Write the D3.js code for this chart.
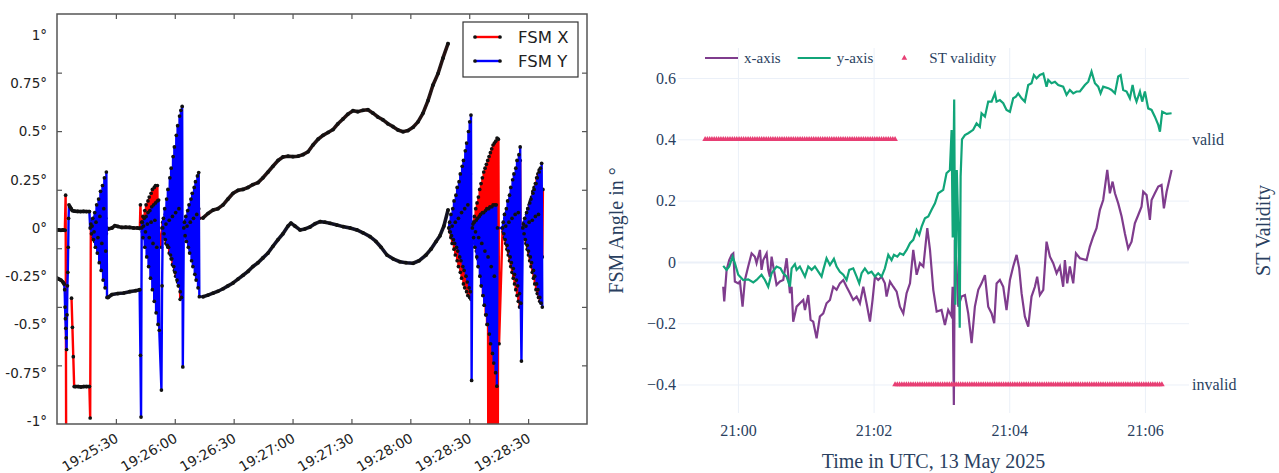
<!DOCTYPE html>
<html>
<head>
<meta charset="utf-8">
<script src="https://cdn.jsdelivr.net/npm/d3@7"></script>
<style>
  html, body { margin: 0; padding: 0; background: #fff; }
  svg { display: block; }
</style>
</head>
<body>
<svg id="chart" width="1279" height="473"></svg>
<script>
// ---------------- left panel: FSM angles, seconds after 19:25:00 ----------------
// segments: ['track', [[sec, deg], ...]] slow samples, ['burst', t0, dt, [deg...]] fast samples, ['gap']
const fsmXSegments = [
  ['track', [[0, -0.01], [1, -0.01], [2, -0.012], [3, -0.01], [4, -0.012]]],
  ['burst', 4.4, 0.3, [0.17, -1.3]],
  ['gap'],
  ['burst', 7.4, 0.45, [-0.364, -0.515, -0.667, -0.822]],
  ['track', [[9.4, -0.822], [10.8, -0.822], [12.2, -0.824], [13.6, -0.822], [15, -0.822], [16.5, -0.822]]],
  ['burst', 16.9, 0.33, [-0.985, 0.0, 0.02, -0.03, 0.04, -0.05, 0.05, -0.07, 0.06, -0.08, 0.07, -0.1, 0.08, -0.11,
    0.09, -0.12, 0.1, -0.13, 0.1, -0.14, 0.11, -0.15, 0.1, -0.1, 0.05, -0.03, 0.0]],
  ['track', [[26, -0.005], [28, 0.0], [29.5, 0.012], [31, 0.008], [33, 0.003], [35, 0.004], [37, 0.003], [39, 0.0], [41, 0.0], [42.2, -0.002]]],
  ['burst', 42.5, 0.32, [0.12, 0.0, 0.03, -0.02, 0.06, -0.04, 0.02, 0.09, -0.06, 0.12, -0.09, 0.04, 0.14, -0.12, 0.16,
    -0.15, 0.06, 0.18, -0.18, 0.2, -0.21, 0.08, 0.21, -0.25, 0.22, -0.28, 0.1, 0.22, -0.3, 0.0]],
  ['burst', 53.2, 0.33, [-0.1, 0.0, 0.03, -0.03, 0.05, -0.05, 0.07, -0.08, 0.02, 0.09, -0.1, 0.11, -0.13, 0.05, 0.12,
    -0.16, 0.13, -0.19, 0.06, 0.14, -0.22, 0.15, -0.25, 0.08, 0.15, -0.28, 0.16, -0.3, -0.13, -0.37, -0.2, -0.3, 0.0]],
  ['burst', 64.6, 0.33, [0.0, 0.02, -0.03, 0.04, -0.05, 0.06, -0.07, 0.08, -0.09, 0.1, -0.11, 0.12, -0.13, 0.13, -0.15,
    0.15, -0.17, 0.16, -0.19, 0.17, -0.2, 0.18, -0.22, 0.1, 0.05]],
  ['track', [[74.4, 0.052], [76.9, 0.075], [79.5, 0.093], [82.0, 0.10], [84.6, 0.12], [87.1, 0.15], [89.7, 0.18],
    [92.2, 0.195], [94.8, 0.2], [97.3, 0.21], [99.8, 0.225], [102.4, 0.235], [104.9, 0.26], [107.5, 0.29], [110.0, 0.32],
    [112.6, 0.35], [115.1, 0.368], [117.7, 0.372], [120.2, 0.37], [122.8, 0.372], [125.3, 0.38], [127.9, 0.395],
    [130.4, 0.43], [133.0, 0.46], [135.5, 0.48], [138.1, 0.495], [140.6, 0.51], [143.1, 0.54], [145.7, 0.565],
    [148.2, 0.59], [150.8, 0.608], [153.3, 0.603], [155.9, 0.61], [158.4, 0.613], [161.0, 0.595], [163.5, 0.575],
    [166.1, 0.56], [168.6, 0.54], [171.2, 0.525], [173.7, 0.508], [176.3, 0.499], [178.8, 0.505], [181.4, 0.522],
    [183.9, 0.55], [186.4, 0.594], [189.0, 0.66], [191.5, 0.74], [194.1, 0.8], [196.6, 0.88], [199.2, 0.955]]],
  ['gap'],
  ['burst', 199.7, 0.32, [0.0, -0.02, 0.02, -0.05, 0.04, -0.08, 0.0, 0.06, -0.11, 0.08, -0.14, 0.02, 0.1, -0.17, 0.12,
    -0.2, 0.03, 0.14, -0.23, 0.16, -0.26, 0.05, 0.18, -0.29, 0.2, -0.31, 0.06, 0.22, -0.33, 0.24, -0.35, 0.08, 0.26,
    -0.36, 0.28, -0.37, 0.0]],
  ['burst', 211.6, 0.34, [0.0, 0.03, -0.04, 0.06, -0.08, 0.1, -0.12, 0.13, -0.16, 0.16, -0.2, 0.2, -0.25, 0.23, -0.3,
    0.26, -0.35, 0.29, -0.4, 0.31, -0.45, 0.33, -0.5, 0.35, -1.4, 0.37, -1.4, 0.39, -1.4, 0.41, -1.4, 0.43, -1.4, 0.44,
    -1.4, 0.45, -1.4, 0.466, -1.4, 0.46, -0.6]],
  ['burst', 227.0, 0.32, [0.0, -0.02, 0.03, -0.05, 0.05, -0.08, 0.08, -0.11, 0.1, -0.14, 0.13, -0.17, 0.15, -0.2, 0.18,
    -0.23, 0.2, -0.26, 0.23, -0.29, 0.25, -0.32, 0.28, -0.35, 0.3, -0.38, 0.33, -0.41, 0.35, -0.4, 0.0]],
  ['burst', 237.3, 0.32, [0.0, -0.02, 0.03, -0.05, 0.05, -0.08, 0.07, -0.11, 0.1, -0.14, 0.12, -0.17, 0.14, -0.2, 0.16,
    -0.23, 0.19, -0.26, 0.21, -0.29, 0.23, -0.32, 0.26, -0.34, 0.28, -0.36, 0.3, -0.38, 0.22, -0.15, 0.2, -0.15, 0.2]]
];

const fsmYSegments = [
  ['track', [[0, -0.26], [1, -0.265], [2, -0.27], [3, -0.28], [3.6, -0.29]]],
  ['burst', 3.9, 0.2, [-0.32, -0.41, -0.47, -0.52, -0.57, -0.63, -0.45, -0.3, -0.23, -0.1, 0.05, 0.12]],
  ['track', [[6.6, 0.11], [7.2, 0.1], [7.8, 0.09], [9, 0.087], [10.5, 0.086], [12, 0.085], [13.5, 0.086], [15, 0.085], [16.5, 0.085]]],
  ['burst', 16.9, 0.33, [0.0, 0.02, -0.03, 0.01, 0.05, -0.06, -0.02, 0.08, -0.1, 0.03, 0.12, -0.13, -0.05, 0.15, -0.18,
    0.06, 0.19, -0.22, -0.08, 0.22, -0.27, 0.1, 0.26, -0.31, -0.12, 0.29, -0.36]],
  ['track', [[26, -0.36], [28, -0.345], [31, -0.34], [34, -0.337], [37, -0.33], [40, -0.325], [42.1, -0.32]]],
  ['burst', 42.5, 0.32, [-0.66, -0.98, 0.0, 0.03, -0.05, 0.01, 0.05, -0.1, -0.02, 0.06, -0.15, 0.02, 0.08, -0.2, -0.05,
    0.09, -0.26, 0.03, 0.11, -0.32, -0.08, 0.12, -0.38, 0.04, 0.13, -0.44, -0.1, 0.14, -0.5, 0.145, -0.53]],
  ['burst', 53.2, 0.33, [-0.84, -0.3, 0.0, 0.05, -0.03, 0.1, -0.06, 0.02, 0.15, -0.09, 0.2, -0.1, 0.04, 0.26, -0.14,
    0.31, -0.16, 0.06, 0.37, -0.2, 0.42, -0.23, 0.08, 0.48, -0.27, 0.53, -0.3, 0.1, 0.58, -0.33, 0.61, -0.36, 0.63, -0.72]],
  ['burst', 64.6, 0.33, [0.0, 0.03, -0.04, 0.06, -0.07, 0.01, 0.09, -0.1, 0.12, -0.13, 0.03, 0.15, -0.17, 0.18, -0.2,
    0.05, 0.21, -0.24, 0.24, -0.27, 0.07, 0.27, -0.31, 0.287, -0.356]],
  ['track', [[74.4, -0.356], [76.9, -0.348], [79.5, -0.338], [82.0, -0.328], [84.6, -0.315], [87.1, -0.3], [89.7, -0.285],
    [92.2, -0.265], [94.8, -0.245], [97.3, -0.225], [99.8, -0.2], [102.4, -0.18], [104.9, -0.155], [107.5, -0.13],
    [110.0, -0.095], [112.6, -0.06], [115.1, -0.03], [117.7, 0.01], [119.2, 0.025], [121.2, 0.01], [123.8, -0.01],
    [126.3, -0.005], [128.9, 0.005], [131.4, 0.022], [134.0, 0.033], [136.5, 0.03], [139.1, 0.024], [142.6, 0.015],
    [145.7, 0.007], [149.3, 0.0], [152.8, -0.01], [155.9, -0.025], [159.5, -0.045], [162.5, -0.07], [165.1, -0.1],
    [168.1, -0.14], [171.2, -0.16], [174.7, -0.175], [177.8, -0.18], [181.4, -0.183], [184.4, -0.17], [188.0, -0.14],
    [190.5, -0.11], [193.1, -0.07], [195.1, -0.04], [197.1, 0.01], [199.2, 0.093]]],
  ['gap'],
  ['burst', 199.7, 0.32, [0.0, 0.03, -0.02, 0.07, -0.04, 0.01, 0.1, -0.06, 0.14, -0.08, 0.03, 0.17, -0.1, 0.21, -0.12,
    0.05, 0.24, -0.15, 0.28, -0.17, 0.08, 0.32, -0.2, 0.35, -0.22, 0.1, 0.4, -0.25, 0.44, -0.28, 0.12, 0.5, -0.31, 0.55,
    -0.33, 0.585, -0.79]],
  ['burst', 211.6, 0.32, [0.0, 0.02, -0.05, 0.03, -0.1, -0.02, 0.04, -0.15, 0.05, -0.2, -0.05, 0.06, -0.25, 0.07, -0.3,
    -0.08, 0.08, -0.35, 0.08, -0.4, -0.12, 0.09, -0.45, 0.1, -0.5, -0.15, 0.1, -0.55, 0.11, -0.6, -0.2, 0.11, -0.65, 0.12,
    -0.7, -0.25, 0.12, -0.75, 0.12, -0.82, 0.0]],
  ['burst', 227.0, 0.32, [0.0, 0.03, -0.03, 0.07, -0.06, 0.01, 0.1, -0.09, 0.14, -0.12, 0.03, 0.17, -0.15, 0.21, -0.18,
    0.05, 0.25, -0.21, 0.28, -0.24, 0.07, 0.31, -0.27, 0.35, -0.3, 0.08, 0.38, -0.34, 0.42, -0.39, -0.69]],
  ['burst', 237.3, 0.32, [0.0, 0.02, -0.03, 0.05, -0.06, 0.01, 0.08, -0.09, 0.1, -0.12, 0.03, 0.13, -0.15, 0.15, -0.18,
    0.04, 0.18, -0.22, 0.2, -0.25, 0.06, 0.23, -0.29, 0.26, -0.32, 0.07, 0.29, -0.36, 0.31, -0.39, 0.335, -0.41]]
];

const leftTickTimes = [30, 60, 90, 120, 150, 180, 210, 240];   // seconds after 19:25:00
const leftTickLabels = ['19:25:30', '19:26:00', '19:26:30', '19:27:00', '19:27:30', '19:28:00', '19:28:30', '19:28:30'];
const leftYLabelValues = [1, 0.75, 0.5, 0.25, 0, -0.25, -0.5, -0.75, -1];
const leftYLabels = ['1°', '0.75°', '0.5°', '0.25°', '0°', '-0.25°', '-0.5°', '-0.75°', '-1°'];
const leftYTickMarks = [-0.712, -0.409, -0.105, 0.198, 0.502, 0.805];
const leftLegend = ['FSM X', 'FSM Y'];

// ---------------- right panel: seconds after 21:00:00 UTC ----------------
const xAxisSeries = [
  [-13.0, -0.081], [-12.1, -0.129], [-10.0, -0.026], [-7.7, 0.006], [-5.6, 0.023], [-4.1, 0.028], [-2.7, -0.064],
  [0.3, -0.070], [1.8, -0.064], [4.1, -0.146], [6.2, -0.059], [9.1, -0.015], [12.1, 0.028], [15.0, 0.017],
  [16.5, -0.004], [19.5, 0.039], [20.9, -0.026], [22.4, 0.006], [25.4, 0.028], [26.8, -0.026], [28.3, -0.048],
  [29.8, 0.017], [31.3, -0.015], [34.2, -0.075], [37.2, -0.064], [40.1, -0.059], [43.1, 0.012], [46.0, -0.102],
  [47.5, -0.081], [48.9, -0.195], [51.9, -0.146], [54.8, -0.135], [57.8, -0.124], [59.3, -0.157], [62.2, -0.108],
  [64.3, -0.189], [66.6, -0.195], [69.6, -0.249], [72.5, -0.178], [75.5, -0.168], [78.4, -0.135], [81.4, -0.124],
  [84.3, -0.081], [87.3, -0.091], [90.2, -0.070], [93.2, -0.059], [96.1, -0.081], [99.1, -0.102], [102.0, -0.124],
  [105.0, -0.113], [107.9, -0.135], [110.9, -0.081], [113.8, -0.135], [116.8, -0.195], [119.1, -0.124],
  [121.2, -0.048], [124.1, -0.059], [127.1, -0.048], [130.0, -0.070], [131.5, -0.113], [134.5, -0.064],
  [137.4, -0.081], [140.4, -0.097], [143.3, -0.146], [146.3, -0.168], [149.2, -0.102], [152.2, -0.070],
  [155.1, 0.039], [158.1, -0.042], [161.0, -0.004], [164.0, -0.015], [167.5, 0.110], [169.9, 0.039],
  [172.8, -0.091], [175.8, -0.162], [180.1, -0.157], [183.1, -0.206], [186.0, -0.157], [189.0, -0.178],
  [189.9, -0.081], [191.0, -0.467], [191.9, 0.072], [193.4, -0.015], [194.9, -0.146], [197.8, -0.113],
  [200.8, -0.108], [203.7, -0.168], [206.7, -0.265], [209.6, -0.146], [212.6, -0.091], [215.5, -0.070],
  [218.5, -0.043], [221.4, -0.146], [224.4, -0.168], [226.7, -0.200], [228.8, -0.070], [231.7, -0.059],
  [234.7, -0.081], [237.6, -0.157], [240.6, -0.059], [243.5, -0.015], [246.5, 0.023], [248.8, -0.021],
  [250.9, -0.102], [253.8, -0.178], [256.8, -0.211], [259.7, -0.113], [262.7, -0.081], [264.7, -0.048],
  [267.1, -0.108], [270.1, -0.091], [273.0, 0.066], [276.0, 0.017], [278.9, -0.004], [281.9, -0.037],
  [284.8, -0.015], [287.7, -0.081], [289.2, 0.006], [291.3, -0.070], [293.6, -0.015], [296.6, -0.070],
  [299.0, 0.028], [302.5, 0.012], [308.4, 0.006], [311.3, 0.050], [314.3, 0.083], [317.2, 0.110], [320.2, 0.170],
  [323.1, 0.202], [326.7, 0.300], [329.0, 0.224], [331.4, 0.262], [333.5, 0.224], [336.4, 0.191], [339.4, 0.148],
  [342.3, 0.093], [345.2, 0.044], [348.2, 0.066], [351.1, 0.126], [354.1, 0.153], [357.0, 0.180], [358.5, 0.229],
  [361.5, 0.218], [364.4, 0.137], [365.9, 0.202], [368.8, 0.224], [371.8, 0.246], [374.7, 0.251], [376.8, 0.175],
  [379.2, 0.229], [383.6, 0.300]
];

const yAxisSeries = [
  [-13.0, -0.013], [-10.0, -0.026], [-7.7, -0.015], [-4.7, 0.017], [-2.7, -0.004], [0.3, -0.042], [4.7, -0.059],
  [9.1, -0.057], [13.6, -0.067], [16.5, -0.059], [20.9, -0.042], [23.9, -0.059], [26.8, -0.081], [29.8, -0.037],
  [34.2, -0.015], [37.7, -0.021], [40.1, -0.037], [43.1, -0.048], [46.0, -0.081], [47.5, -0.021], [50.4, -0.007],
  [51.9, -0.026], [54.8, -0.015], [59.3, -0.048], [62.2, -0.015], [65.2, -0.026], [68.1, -0.015], [71.1, -0.032],
  [74.0, -0.048], [75.5, -0.026], [78.4, 0.012], [81.4, -0.010], [84.9, 0.010], [87.3, -0.015], [90.2, -0.032],
  [93.2, -0.042], [96.1, -0.059], [98.5, -0.026], [102.0, -0.021], [105.0, -0.048], [107.3, -0.070],
  [109.4, -0.037], [112.3, -0.021], [115.3, -0.037], [118.2, -0.032], [121.2, -0.048], [124.1, -0.037],
  [127.1, -0.048], [130.0, -0.021], [133.0, 0.023], [135.9, 0.006], [138.0, 0.023], [141.0, 0.017], [143.3, 0.028],
  [146.3, 0.023], [149.2, 0.039], [152.2, 0.061], [155.1, 0.072], [158.1, 0.104], [160.4, 0.088], [162.5, 0.115],
  [165.4, 0.142], [168.4, 0.148], [171.3, 0.170], [174.3, 0.191], [177.2, 0.224], [181.6, 0.235], [184.5, 0.289],
  [187.5, 0.300], [189.0, 0.43], [190.0, 0.08], [191.3, 0.53], [192.3, -0.14], [193.6, 0.30], [195.0, 0.10],
  [196.2, -0.215], [197.0, 0.28], [198.2, 0.40], [200.8, 0.414], [203.7, 0.420], [208.1, 0.431], [211.1, 0.452],
  [214.0, 0.441], [215.5, 0.485], [218.5, 0.474], [221.4, 0.523], [224.4, 0.523], [227.3, 0.550], [228.8, 0.523],
  [231.7, 0.528], [234.7, 0.518], [237.6, 0.496], [240.6, 0.490], [243.5, 0.534], [245.9, 0.539], [247.9, 0.550],
  [250.9, 0.534], [253.8, 0.523], [256.8, 0.577], [259.7, 0.583], [261.8, 0.610], [264.2, 0.599], [267.1, 0.610],
  [270.1, 0.615], [273.0, 0.572], [274.5, 0.594], [277.4, 0.583], [280.4, 0.588], [283.3, 0.577], [287.7, 0.572],
  [290.7, 0.545], [293.6, 0.561], [296.6, 0.550], [299.5, 0.556], [302.5, 0.556], [306.9, 0.577], [309.9, 0.588],
  [312.8, 0.621], [315.8, 0.583], [318.7, 0.572], [320.8, 0.550], [323.1, 0.572], [327.6, 0.567], [330.5, 0.561],
  [333.5, 0.550], [336.4, 0.605], [338.5, 0.610], [340.8, 0.561], [343.8, 0.556], [346.7, 0.534], [349.1, 0.577],
  [351.1, 0.539], [352.6, 0.523], [355.6, 0.556], [357.6, 0.523], [360.0, 0.556], [362.9, 0.501], [365.9, 0.496],
  [368.8, 0.474], [371.8, 0.447], [373.3, 0.425], [375.3, 0.490], [379.2, 0.483], [383.6, 0.485]
];

// star tracker validity: [from sec, to sec, state], sampled every stSampleStep seconds
const stValiditySpans = [[-29, 140, 'valid'], [139, 376, 'invalid']];
const stSampleStep = 2;
const stStates = ['invalid', 'valid'];
const rightYTicks = [-0.4, -0.2, 0, 0.2, 0.4, 0.6];
const rightXTicks = [0, 120, 240, 360];
const rightLegend = ['x-axis', 'y-axis', 'ST validity'];

// ===================================================================
const svg = d3.select('#chart');
svg.append('rect').attr('width', 1279).attr('height', 473).attr('fill', '#fff');

// ---------------- left panel ----------------
const LEFT_T0 = Date.UTC(2025, 4, 13, 19, 25, 0);
const lt = s => new Date(LEFT_T0 + s * 1000);
const L = { left: 57, right: 587, top: 14, bottom: 424 };
const lx = d3.scaleUtc().domain([lt(0), lt(270)]).range([L.left, L.right]);
const ly = d3.scaleLinear().domain([-1.016, 1.109]).range([L.bottom, L.top]);

function expand(segs) {
  const pts = [];
  segs.forEach(seg => {
    if (seg[0] === 'gap') { pts.push(null); return; }
    if (seg[0] === 'track') seg[1].forEach(([s, v]) => pts.push({ s, v, trail: true }));
    else seg[3].forEach((v, i) => pts.push({ s: seg[1] + i * seg[2], v, trail: false }));
  });
  return pts;
}

const left = svg.append('g').attr('font-family', '"DejaVu Sans", sans-serif');
left.append('clipPath').attr('id', 'clipL').append('rect')
  .attr('x', L.left).attr('y', L.top).attr('width', L.right - L.left).attr('height', L.bottom - L.top);

const lineL = d3.line().defined(d => d != null).x(d => lx(lt(d.s))).y(d => ly(d.v));
const trailL = d3.line().defined(d => d != null && d.trail).x(d => lx(lt(d.s))).y(d => ly(d.v));

const plotL = left.append('g').attr('clip-path', 'url(#clipL)');
[{ segs: fsmXSegments, color: '#ff0000' }, { segs: fsmYSegments, color: '#0000ff' }].forEach(sr => {
  const pts = expand(sr.segs);
  plotL.append('path').datum(pts)
    .attr('fill', 'none').attr('stroke', sr.color).attr('stroke-width', 2.4).attr('d', lineL);
  plotL.append('path').datum(pts)
    .attr('fill', 'none').attr('stroke', '#111').attr('stroke-opacity', 0.92).attr('stroke-width', 3.6)
    .attr('stroke-linecap', 'round').attr('stroke-linejoin', 'round').attr('d', trailL);
  plotL.append('g').selectAll('circle')
    .data(pts.filter(d => d != null))
    .enter().append('circle')
    .attr('cx', d => lx(lt(d.s)))
    .attr('cy', d => ly(d.v))
    .attr('r', 1.85)
    .attr('fill', '#111');
});

// ticks (inside, all four sides)
const tickStyle = g => {
  g.select('.domain').remove();
  g.selectAll('line').attr('stroke', '#555').attr('stroke-width', 1.2);
};
left.append('g').attr('transform', `translate(0,${L.top})`)
  .call(d3.axisTop(lx).tickValues(leftTickTimes.map(lt)).tickSize(-5).tickFormat(''))
  .call(tickStyle);
left.append('g').attr('transform', `translate(${L.left},0)`)
  .call(d3.axisLeft(ly).tickValues(leftYTickMarks).tickSize(-5).tickFormat(''))
  .call(tickStyle);
left.append('g').attr('transform', `translate(${L.right},0)`)
  .call(d3.axisRight(ly).tickValues(leftYTickMarks).tickSize(-5).tickFormat(''))
  .call(tickStyle);
left.append('g').attr('transform', `translate(0,${L.bottom})`)
  .call(d3.axisBottom(lx).tickValues(leftTickTimes.map(lt)).tickSize(-5).tickFormat((d, i) => leftTickLabels[i]))
  .call(tickStyle)
  .call(g => g.selectAll('text')
    .attr('y', 0).attr('dy', 0)
    .attr('text-anchor', 'end')
    .attr('transform', 'translate(3,17) rotate(-30)')
    .attr('font-family', '"DejaVu Sans", sans-serif')
    .attr('font-size', 13.8)
    .attr('fill', '#222'));
left.append('g').attr('transform', `translate(${L.left},0)`)
  .call(d3.axisLeft(ly).tickValues(leftYLabelValues).tickSize(0).tickPadding(10).tickFormat((d, i) => leftYLabels[i]))
  .call(g => g.select('.domain').remove())
  .call(g => g.selectAll('text')
    .attr('font-family', '"DejaVu Sans", sans-serif')
    .attr('font-size', 13.5)
    .attr('fill', '#222'));

left.append('rect')
  .attr('x', L.left).attr('y', L.top).attr('width', L.right - L.left).attr('height', L.bottom - L.top)
  .attr('fill', 'none').attr('stroke', '#555').attr('stroke-width', 1.5);

// legend
const legL = left.append('g');
legL.append('rect').attr('x', 463).attr('y', 22).attr('width', 115).attr('height', 55)
  .attr('fill', '#fff').attr('stroke', '#333').attr('stroke-width', 1.2);
['#ff0000', '#0000ff'].forEach((c, i) => {
  const yy = 37 + i * 24;
  legL.append('line').attr('x1', 475).attr('x2', 500).attr('y1', yy).attr('y2', yy)
    .attr('stroke', c).attr('stroke-width', 2.4);
  [475, 500].forEach(xx => legL.append('circle').attr('cx', xx).attr('cy', yy).attr('r', 1.85).attr('fill', '#111'));
  legL.append('text').attr('x', 518).attr('y', yy).attr('dy', '0.36em')
    .attr('font-size', 16.5).attr('fill', '#222').text(leftLegend[i]);
});

// ---------------- right panel ----------------
const RIGHT_T0 = Date.UTC(2025, 4, 13, 21, 0, 0);
const rt = s => new Date(RIGHT_T0 + s * 1000);
const R = { left: 678, right: 1189, top: 48, bottom: 413 };
const rx = d3.scaleUtc().domain([rt(-53), rt(399)]).range([R.left, R.right]);
const ry = d3.scaleLinear().domain([-0.493, 0.698]).range([R.bottom, R.top]);
const ryCat = d3.scalePoint().domain(stStates).range([ry(-0.4), ry(0.4)]);

const textColor = '#2a3f5f';
const gridColor = '#ebf0f8';
const right = svg.append('g').attr('font-family', '"Liberation Serif", "Times New Roman", serif');

right.append('g').attr('transform', `translate(0,${R.bottom})`)
  .call(d3.axisBottom(rx).tickValues(rightXTicks.map(rt)).tickSize(-(R.bottom - R.top)).tickFormat(''))
  .call(g => g.select('.domain').remove())
  .call(g => g.selectAll('line').attr('stroke', gridColor).attr('stroke-width', 1));
right.append('g').attr('transform', `translate(${R.left},0)`)
  .call(d3.axisLeft(ry).tickValues(rightYTicks).tickSize(-(R.right - R.left)).tickFormat(''))
  .call(g => g.select('.domain').remove())
  .call(g => g.selectAll('line').attr('stroke', gridColor).attr('stroke-width', d => d === 0 ? 2 : 1));

const lineR = d3.line().x(d => rx(rt(d[0]))).y(d => ry(d[1]));
[{ data: xAxisSeries, color: '#7f3c8d' }, { data: yAxisSeries, color: '#11a579' }].forEach(sr => {
  right.append('path').datum(sr.data)
    .attr('fill', 'none').attr('stroke', sr.color).attr('stroke-width', 2.2).attr('d', lineR);
});

const stSamples = [];
stValiditySpans.forEach(([from, to, state]) => {
  for (let s = from; s <= to; s += stSampleStep) stSamples.push({ s, state });
});
const tri = d3.symbol(d3.symbolTriangle, 14);
right.append('g').selectAll('path')
  .data(stSamples)
  .enter().append('path')
  .attr('d', tri)
  .attr('transform', d => `translate(${rx(rt(d.s))},${ryCat(d.state)})`)
  .attr('fill', '#e73f74');

// axes labels
right.append('g').attr('transform', `translate(0,${R.bottom})`)
  .call(d3.axisBottom(rx).tickValues(rightXTicks.map(rt)).tickSize(0).tickPadding(12).tickFormat(d3.utcFormat('%H:%M')))
  .call(g => g.select('.domain').remove())
  .call(g => g.selectAll('text').attr('font-family', '"Liberation Serif", serif').attr('font-size', 16).attr('fill', textColor));
right.append('g').attr('transform', `translate(${R.left},0)`)
  .call(d3.axisLeft(ry).tickValues(rightYTicks).tickSize(0).tickPadding(2).tickFormat(d => d === 0 ? '0' : d3.format('.1f')(d)))
  .call(g => g.select('.domain').remove())
  .call(g => g.selectAll('text').attr('font-family', '"Liberation Serif", serif').attr('font-size', 16).attr('fill', textColor));
right.append('g').attr('transform', `translate(${R.right},0)`)
  .call(d3.axisRight(ryCat).tickSize(0).tickPadding(3))
  .call(g => g.select('.domain').remove())
  .call(g => g.selectAll('text').attr('font-family', '"Liberation Serif", serif').attr('font-size', 16).attr('fill', textColor));

right.append('text')
  .attr('x', (R.left + R.right) / 2).attr('y', 468)
  .attr('text-anchor', 'middle').attr('font-size', 20).attr('fill', textColor)
  .text('Time in UTC, 13 May 2025');
right.append('text')
  .attr('transform', `translate(623,${(R.top + R.bottom) / 2}) rotate(-90)`)
  .attr('text-anchor', 'middle').attr('font-size', 20).attr('fill', textColor)
  .text('FSM Angle in °');
right.append('text')
  .attr('transform', `translate(1270,${(R.top + R.bottom) / 2}) rotate(-90)`)
  .attr('text-anchor', 'middle').attr('font-size', 20).attr('fill', textColor)
  .text('ST Validity');

// legend
const legR = right.append('g');
let itemX = 700;
const legY = 58;
rightLegend.forEach((name, i) => {
  if (i < 2) {
    legR.append('line').attr('x1', itemX + 5).attr('x2', itemX + 38).attr('y1', legY).attr('y2', legY)
      .attr('stroke', i === 0 ? '#7f3c8d' : '#11a579').attr('stroke-width', 2.2);
  } else {
    legR.append('path').attr('d', tri).attr('transform', `translate(${itemX + 19},${legY})`).attr('fill', '#e73f74');
  }
  const txt = legR.append('text').attr('x', itemX + 44).attr('y', legY).attr('dy', '0.33em')
    .attr('font-size', 15).attr('fill', textColor).text(name);
  itemX = itemX + 44 + txt.node().getComputedTextLength() + 12;
});
</script>
</body>
</html>
